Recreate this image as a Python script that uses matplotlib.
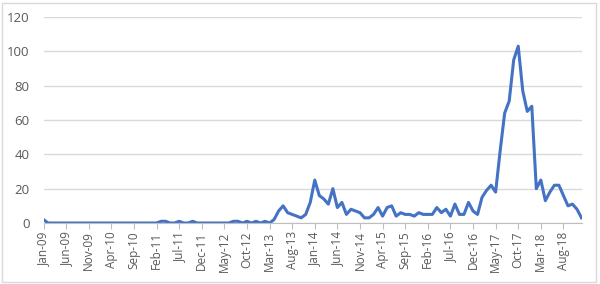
import matplotlib
matplotlib.use('Agg')
import matplotlib.pyplot as plt
from matplotlib.patches import Rectangle

plt.rcParams['font.family'] = ['Open Sans', 'DejaVu Sans']

# monthly counts, Jan-09 .. Dec-18
values = [
    2, 0, 0, 0, 0, 0, 0, 0, 0, 0, 0, 0,          # 2009
    0, 0, 0, 0, 0, 0, 0, 0, 0, 0, 0, 0,          # 2010
    0, 0, 1, 1, 0, 0, 1, 0, 0, 1, 0, 0,          # 2011
    0, 0, 0, 0, 0, 0, 1, 1, 0, 1, 0, 1,          # 2012
    0, 1, 0, 2, 7, 10, 6, 5, 4, 3, 5, 12,        # 2013
    25, 16, 14, 11, 20, 9, 12, 5, 8, 7, 6, 3,    # 2014
    3, 5, 9, 4, 9, 10, 4, 6, 5, 5, 4, 6,         # 2015
    5, 5, 5, 9, 6, 8, 4, 11, 5, 5, 12, 7,        # 2016
    5, 15, 19, 22, 18, 42, 64, 71, 95, 103, 77, 65,  # 2017
    68, 20, 25, 13, 18, 22, 22, 16, 10, 11, 8, 3,    # 2018
]
months = ['Jan', 'Feb', 'Mar', 'Apr', 'May', 'Jun',
          'Jul', 'Aug', 'Sep', 'Oct', 'Nov', 'Dec']
years = list(range(9, 19))
labels = ['%s-%02d' % (m, y) for y in years for m in months]

fig = plt.figure(figsize=(6, 2.84), dpi=100)
fig.patches.append(Rectangle((0.004, 0.008), 0.99, 0.982, transform=fig.transFigure,
                             fill=False, edgecolor='#d9d9d9', linewidth=1))
ax = fig.add_axes([0.0725, 0.2148, 0.8967, 0.7254])

x = list(range(len(values)))
ax.plot(x, values, color='#4472C4', linewidth=2.2, solid_joinstyle='round')

ax.set_xlim(0, len(values) - 1)
ax.set_ylim(0, 120)
ax.set_yticks(range(0, 121, 20))
ax.set_xticks(x[::5])
ax.set_xticklabels(labels[::5], rotation=90)

ax.grid(axis='y', color='#d9d9d9', linewidth=1)
ax.set_axisbelow(True)
for s in ['top', 'right', 'left']:
    ax.spines[s].set_visible(False)
ax.spines['bottom'].set_color('#bfbfbf')
ax.tick_params(axis='y', length=0, labelsize=9.5, labelcolor='#595959', pad=10)
ax.tick_params(axis='x', length=4, color='#bfbfbf', labelsize=8.5, labelcolor='#595959', pad=2)

fig.savefig('out.png', dpi=100)
